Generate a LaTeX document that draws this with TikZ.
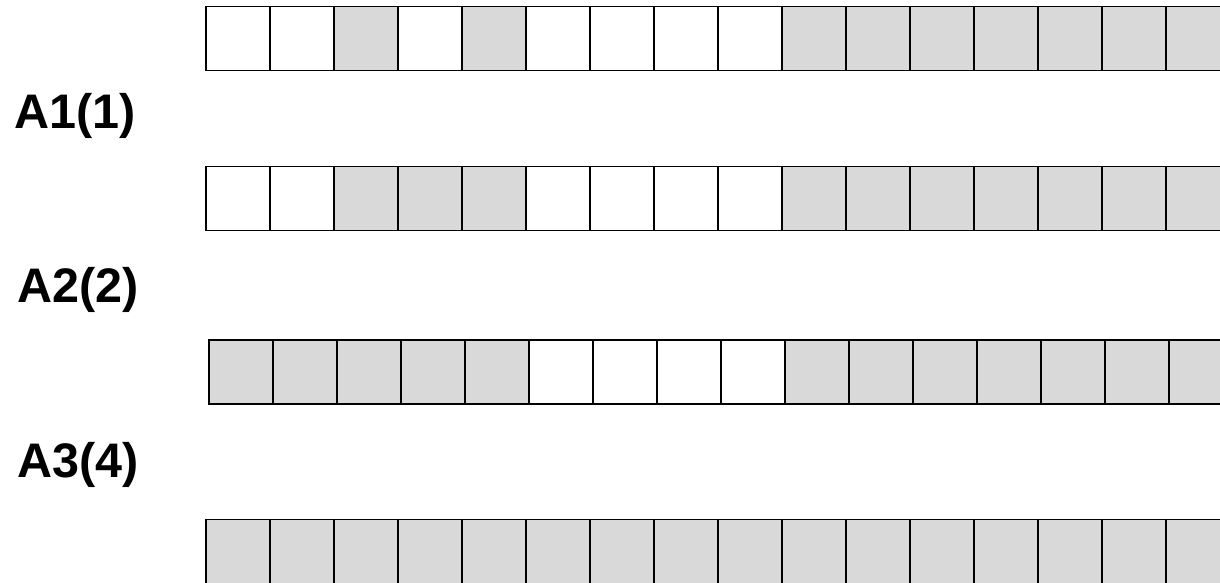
\documentclass[tikz,border=0pt]{standalone}
\usepackage{fontspec}
\setmainfont{Liberation Sans}
\definecolor{cellgray}{HTML}{D9D9D9}
\begin{document}
\begin{tikzpicture}[x=1pt,y=-1pt,
  cell/.style={draw=black,line width=1.2pt,minimum width=64pt,minimum height=64pt,inner sep=0pt,outer sep=0pt,anchor=north west},
  wcell/.style={cell,fill=white},
  gcell/.style={cell,fill=cellgray},
  tallcell/.style={gcell,minimum height=120pt},
  lbl/.style={font=\bfseries\fontsize{48.5}{52}\selectfont,anchor=base west,inner sep=0pt}]
\useasboundingbox (0,0) rectangle (1220,582);
\clip (0,0) rectangle (1220,582);
% row 1
\foreach \s [count=\i from 0] in {w,w,g,w,g,w,w,w,w,g,g,g,g,g,g,g}
  \node[\s cell] (r1c\i) at (206+64*\i,6.5) {};
% row 2
\foreach \s [count=\i from 0] in {w,w,g,g,g,w,w,w,w,g,g,g,g,g,g,g}
  \node[\s cell] (r2c\i) at (206+64*\i,166.5) {};
% row 3
\foreach \s [count=\i from 0] in {g,g,g,g,g,w,w,w,w,g,g,g,g,g,g,g}
  \node[\s cell] (r3c\i) at (209+64*\i,340) {};
% row 4 (runs past the lower edge)
\foreach \i in {0,...,15}
  \node[tallcell] (r4c\i) at (206+64*\i,519.5) {};
\node[lbl] (l1) at (14,128) {A1(1)};
\node[lbl] (l2) at (17,302) {A2(2)};
\node[lbl] (l3) at (17,477) {A3(4)};
\end{tikzpicture}
\end{document}
